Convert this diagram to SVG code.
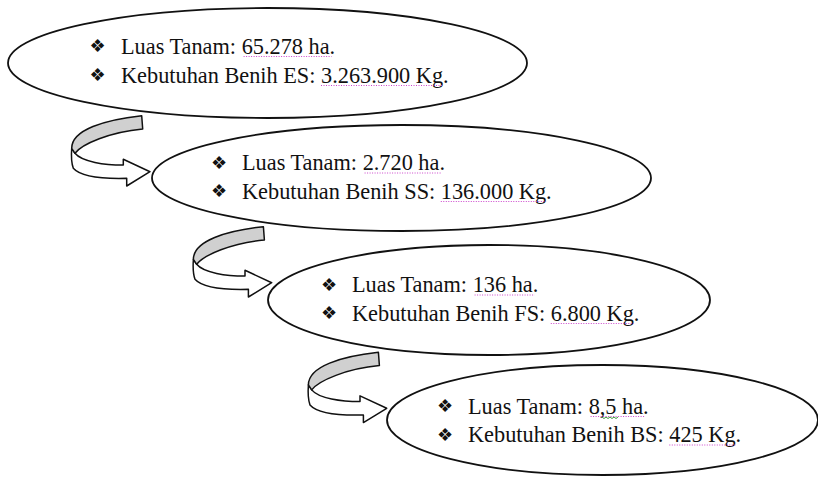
<svg xmlns="http://www.w3.org/2000/svg" width="818" height="478" viewBox="0 0 818 478">
<style>
.ell{fill:#fff;stroke:#111;stroke-width:1.8}
.t{font-family:"Liberation Serif","Times New Roman",serif;font-size:22.3px;fill:#111}
.b{font-family:"DejaVu Sans",sans-serif;font-size:18px;fill:#111;text-anchor:middle}
.u{stroke:#cc44cc;stroke-width:1;stroke-dasharray:1 1.5;fill:none}
.w{stroke:#3a9a3a;stroke-width:1;fill:none}
.band{fill:#fff;stroke:#111;stroke-width:1.5;stroke-linejoin:round}
.gray{fill:#d0d0d0;stroke:#111;stroke-width:1.5;stroke-linejoin:round}
</style>
<defs>
<g id="curl">
<path class="band" d="M -78.3,-23.4 C -79,-14 -78,-7 -76.7,-3.4 C -70,4.3 -50,7.3 -23.3,6.6 L -23.3,14.3 L 0,0 L -26.7,-12.4 L -26.7,-6.7 C -45,-6.7 -68,-9.7 -75,-18.4 Z"/>
<path class="gray" d="M -8.3,-56 C -45,-52 -78.3,-42 -78.3,-23.4 L -75,-18.4 C -68,-27.7 -40,-39.7 -7.3,-42.7 Z"/>
</g>
</defs>
<g id="node1">
<ellipse class="ell" cx="267.5" cy="63" rx="259.5" ry="55"/>
<text class="b" x="97.5" y="52">❖</text>
<text class="t" x="121" y="53.5">Luas Tanam: 65.278 ha.</text>
<line class="u" x1="243.6" y1="56.5" x2="331.6" y2="56.5"/>
<text class="b" x="97.5" y="81">❖</text>
<text class="t" x="121" y="82.5">Kebutuhan Benih ES: 3.263.900 Kg.</text>
<line class="u" x1="321" y1="85.5" x2="443" y2="85.5"/>
</g>
<g id="node2">
<ellipse class="ell" cx="401.5" cy="178" rx="249.5" ry="53"/>
<text class="b" x="219" y="168.5">❖</text>
<text class="t" x="242" y="170">Luas Tanam: 2.720 ha.</text>
<line class="u" x1="364.6" y1="173" x2="441.4" y2="173"/>
<text class="b" x="219" y="197">❖</text>
<text class="t" x="242" y="198.5">Kebutuhan Benih SS: 136.000 Kg.</text>
<line class="u" x1="440.8" y1="201.5" x2="546.1" y2="201.5"/>
</g>
<g id="node3">
<ellipse class="ell" cx="489" cy="300" rx="221" ry="55"/>
<text class="b" x="329" y="290.5">❖</text>
<text class="t" x="352" y="292">Luas Tanam: 136 ha.</text>
<line class="u" x1="474.6" y1="295" x2="534.7" y2="295"/>
<text class="b" x="329" y="319">❖</text>
<text class="t" x="352" y="320.5">Kebutuhan Benih FS: 6.800 Kg.</text>
<line class="u" x1="550.8" y1="323.5" x2="633.8" y2="323.5"/>
</g>
<g id="node4">
<ellipse class="ell" cx="602.5" cy="420" rx="215.5" ry="55"/>
<text class="b" x="445" y="412">❖</text>
<text class="t" x="468" y="413.5">Luas Tanam: 8,5 ha.</text>
<line class="u" x1="590.6" y1="416.5" x2="645.1" y2="416.5"/>
<path class="w" d="M602,417 l2,1.5 l2,-1.5 l2,1.5 l2,-1.5 l2,1.5 l2,-1.5 l2,1.5 l2,-1.5"/>
<text class="b" x="445" y="440.5">❖</text>
<text class="t" x="468" y="442">Kebutuhan Benih BS: 425 Kg.</text>
<line class="u" x1="669.3" y1="445" x2="735.6" y2="445"/>
</g>
<g id="connectors">
<use href="#curl" transform="translate(150,171.7)"/>
<use href="#curl" transform="translate(271.7,282.7)"/>
<use href="#curl" transform="translate(386.7,408.3)"/>
</g>
</svg>
